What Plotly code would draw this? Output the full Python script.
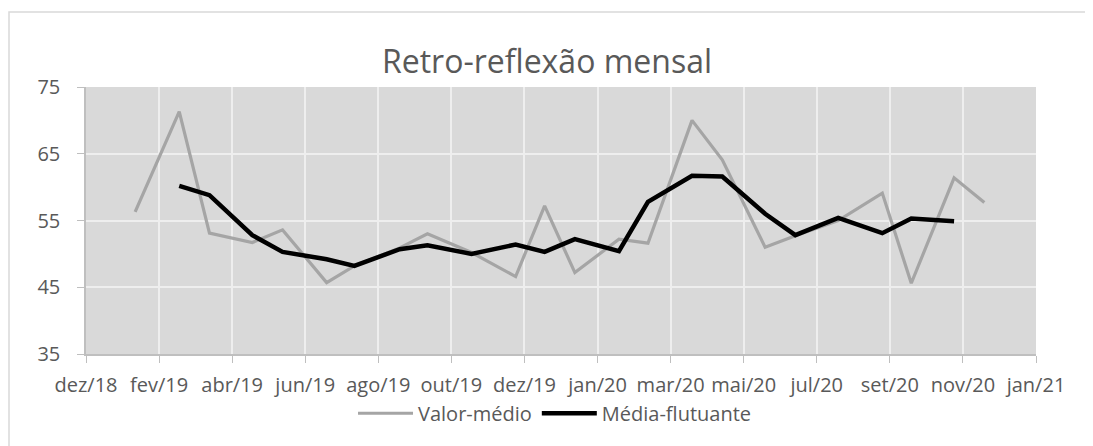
import pandas as pd
import plotly.graph_objects as go

# ---- data ----
dates_valor = ["2019-01-27", "2019-03-03", "2019-03-27", "2019-04-30", "2019-05-24",
               "2019-06-28", "2019-07-20", "2019-08-25", "2019-09-16", "2019-10-21",
               "2019-11-25", "2019-12-18", "2020-01-11", "2020-02-15", "2020-03-09",
               "2020-04-13", "2020-05-07", "2020-06-10", "2020-07-04", "2020-08-07",
               "2020-09-11", "2020-10-04", "2020-11-07", "2020-12-01"]
valor_medio = [56.3, 71.3, 53.1, 51.7, 53.6, 45.7, 48.2, 50.9, 53.0, 50.2,
               46.6, 57.2, 47.2, 52.2, 51.6, 70.0, 64.1, 51.0, 52.7, 55.0,
               59.1, 45.6, 61.4, 57.7]

dates_media = dates_valor[1:-1]
media_flutuante = [60.2, 58.8, 52.8, 50.3, 49.2, 48.2, 50.7, 51.3, 50.0, 51.4,
                   50.3, 52.2, 50.4, 57.8, 61.7, 61.6, 56.0, 52.8, 55.4, 53.1,
                   55.3, 54.9]

tick_labels = ["dez/18", "fev/19", "abr/19", "jun/19", "ago/19", "out/19", "dez/19",
               "jan/20", "mar/20", "mai/20", "jul/20", "set/20", "nov/20", "jan/21"]
axis_start = "2018-12-19"
tick_step_days = 58
y_ticks = [35, 45, 55, 65, 75]

tick_dates = pd.date_range(axis_start, periods=len(tick_labels), freq=f"{tick_step_days}D")

FONT = "Open Sans"
TXT = "#595959"

# the page body has an 8px margin, so the figure is sized to fit the window
W, H = 1085, 438

fig = go.Figure()
fig.add_trace(go.Scatter(x=dates_valor, y=valor_medio, mode="lines", name="Valor-médio",
                         line=dict(color="#A5A5A5", width=3.2)))
fig.add_trace(go.Scatter(x=dates_media, y=media_flutuante, mode="lines", name="Média-flutuante",
                         line=dict(color="#000000", width=4.5)))

fig.update_layout(
    width=W, height=H,
    margin=dict(l=78, r=57, t=79, b=92),
    paper_bgcolor="white",
    plot_bgcolor="#D9D9D9",
    font=dict(family=FONT, size=20, color=TXT),
    title=dict(text="Retro-reflexão mensal", x=539 / W, xanchor="center", xref="container",
               y=1 - 54 / H, yanchor="middle", yref="container",
               font=dict(family=FONT, size=32, color=TXT)),
    showlegend=True,
    legend=dict(orientation="h", x=0.4937, xanchor="center", y=-0.222, yanchor="middle",
                font=dict(family=FONT, size=20, color=TXT), bgcolor="rgba(0,0,0,0)",
                itemwidth=55, tracegroupgap=0),
    xaxis=dict(
        type="date",
        range=[tick_dates[0], tick_dates[-1]],
        tickmode="array", tickvals=tick_dates, ticktext=tick_labels,
        showgrid=True, gridcolor="#EEEEEE", gridwidth=2,
        showline=True, linecolor="#BFBFBF", linewidth=1.5,
        ticks="outside", ticklen=7, tickcolor="#BFBFBF", tickwidth=1,
        tickangle=0, ticklabelstandoff=5,
        zeroline=False,
    ),
    yaxis=dict(
        range=[35, 75],
        tickmode="array", tickvals=y_ticks,
        showgrid=True, gridcolor="#EEEEEE", gridwidth=2,
        showline=True, linecolor="#BFBFBF", linewidth=1.5,
        ticks="outside", ticklen=7, tickcolor="#BFBFBF", tickwidth=1,
        ticklabelstandoff=13,
        zeroline=False,
    ),
)

# outer chart border
fig.add_shape(type="rect", xref="paper", yref="paper",
              x0=(9 - 86) / 950, x1=(1091 - 86) / 950,
              y0=(354 - 452) / 267, y1=(354 - 12) / 267,
              line=dict(color="#D9D9D9", width=1.5), fillcolor="rgba(0,0,0,0)", layer="below")

fig.write_html("out.html")
